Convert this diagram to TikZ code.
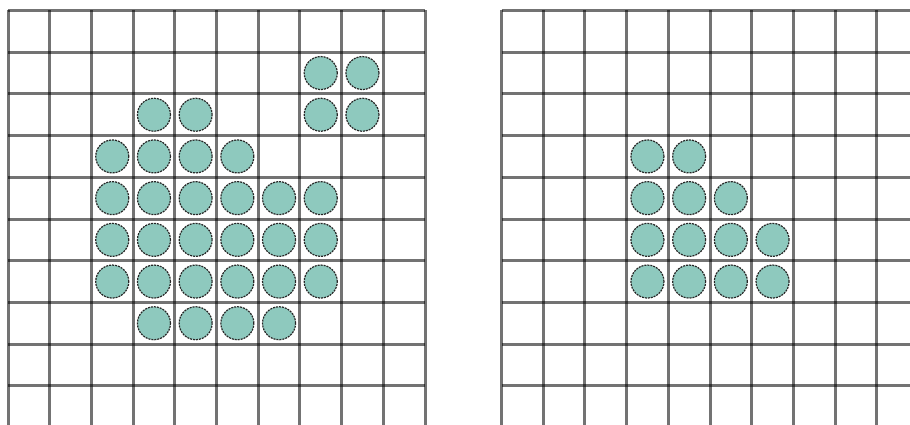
\documentclass[tikz,border=0pt]{standalone}
\usetikzlibrary{positioning}
\definecolor{dotfill}{HTML}{8EC9BE}

\begin{document}
\begin{tikzpicture}[
    x=1pt, y=-1pt,
    gridline/.style={draw=black, opacity=0.55, line width=3pt},
    dot/.style={circle, draw=black!85, dash pattern=on 2pt off 1pt, line width=1.2pt, fill=dotfill, minimum size=33pt, inner sep=0pt}
]
\fill[white] (0,0) rectangle (910,425);
\useasboundingbox (0,0) rectangle (910,425);
\clip (0,0) rectangle (910,425);
% two 10x10 grids, cell 41.7
\foreach \ox in {8, 501.5} {
  \foreach \i in {0,...,10} {
    \draw[gridline] (\ox+\i*41.7, 10.5) -- (\ox+\i*41.7, 430);
    \draw[gridline] (\ox, 10.5+\i*41.7) -- (\ox+417, 10.5+\i*41.7);
  }
}
% left grid: row / first col / last col
\foreach \r/\a/\b in {1/7/8, 2/3/4, 2/7/8, 3/2/5, 4/2/7, 5/2/7, 6/2/7, 7/3/6} {
  \foreach \c in {\a,...,\b}
    \node[dot] (L-\r-\c) at (8+\c*41.7+20.85, 10.5+\r*41.7+20.85) {};
}
% right grid
\foreach \r/\a/\b in {3/3/4, 4/3/5, 5/3/6, 6/3/6} {
  \foreach \c in {\a,...,\b}
    \node[dot] (R-\r-\c) at (501.5+\c*41.7+20.85, 10.5+\r*41.7+20.85) {};
}
\end{tikzpicture}
\end{document}
